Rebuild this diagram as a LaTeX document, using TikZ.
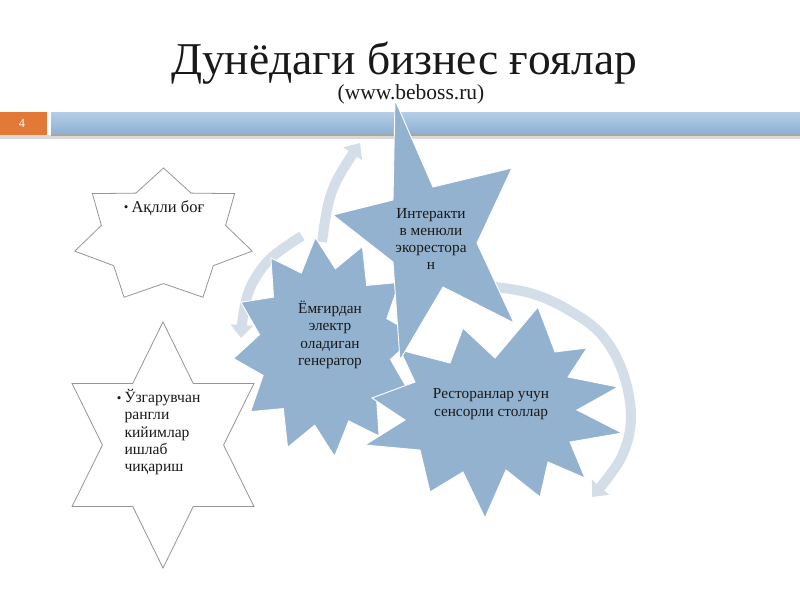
\documentclass[tikz,border=0pt]{standalone}
\usepackage{fontspec}
\setmainfont{Liberation Serif}
\usetikzlibrary{arrows.meta}
\definecolor{starblue}{RGB}{147,178,207}
\definecolor{arcgray}{RGB}{212,222,233}
\definecolor{barblueT}{RGB}{182,206,230}
\definecolor{barblueB}{RGB}{138,174,210}
\definecolor{barorange}{RGB}{226,121,54}
\definecolor{outlinegray}{RGB}{150,150,150}
\definecolor{txt}{RGB}{25,25,25}
\tikzset{
  bluestar/.style={fill=starblue, draw=white, line width=0.9pt, line join=miter},
  whitestar/.style={fill=white, draw=outlinegray, line width=0.8pt},
  cyclearc/.style={draw=arcgray, line width=10pt, -{Triangle[width=22pt,length=13pt]}},
  lbl/.style={text=txt, align=center, font=\fontsize{15.3}{17.3}\selectfont},
}
\newcommand{\regstar}[8]{%
  \pgfmathtruncatemacro\laststarpt{2*#6-1}%
  \path[#1] plot[samples at={0,...,\laststarpt}, variable=\j]
   ({#2+#4*(1-(1-#7)*mod(\j,2))*cos(#8+\j*180/#6)},
    {#3-#5*(1-(1-#7)*mod(\j,2))*sin(#8+\j*180/#6)}) -- cycle;}
\newcommand{\bulletmark}{\llap{\fontsize{13}{13}\selectfont\raisebox{0.5pt}{•}\hspace{3pt}}}
\begin{document}
\begin{tikzpicture}[x=1pt,y=-1pt]
\useasboundingbox (0,0) rectangle (800,600);
\fill[white] (0,0) rectangle (800,600);

% title
\node[anchor=base, text=txt, font=\fontsize{45.5}{45.5}\selectfont] (title) at (404,74) {Дунёдаги бизнес ғоялар};
\node[anchor=base, text=txt, font=\fontsize{21.5}{21.5}\selectfont] (subtitle) at (411,99) {(www.beboss.ru)};

% bar
\fill[black!15] (0,135) rectangle (800,139);
\fill[barorange] (0,112) rectangle (47,135);
\shade[top color=barblueT, bottom color=barblueB] (51,112) rectangle (800,135);
\fill[black!35] (51,134) rectangle (800,135.5);
\node[text=white, font=\fontsize{12.5}{12.5}\selectfont] (num) at (22,123) {4};

% cycle arrows (behind)
\draw[cyclearc] plot[smooth, tension=0.6] coordinates {(488,286) (530,293) (565,308) (600,333) (622,370) (631,417) (621,458) (592,497)};
\draw[cyclearc] plot[smooth, tension=0.6] coordinates {(322,242) (328,205) (338,178) (360,143)};
\draw[cyclearc] plot[smooth, tension=0.6] coordinates {(302,236) (271,258) (252,284) (244,310) (241,338)};

% left white stars
\regstar{whitestar}{163.5}{236}{91}{68}{7}{0.7}{90}
\regstar{whitestar}{163}{445}{105}{123}{6}{0.577}{90}

% generator star
\regstar{bluestar}{325}{347}{92}{110}{12}{0.72}{6}

% restaurant tables star
\path[bluestar] (538,307) -- (555,352) -- (587,348) -- (568,377) -- (618,387) -- (577,410)
 -- (622,433) -- (570,442) -- (585,478) -- (548,462) -- (540,497) -- (506,470)
 -- (485,518) -- (463,472) -- (430,492) -- (420,450) -- (365,445) -- (405,420)
 -- (372,398) -- (415,382) -- (400,350) -- (450,363) -- (463,328) -- (495,358) -- cycle;

% interactive menu star
\path[bluestar] (395,100) -- (433,187) -- (512,168) -- (477,243) -- (514,323)
 -- (443,287) -- (400,360) -- (393,262) -- (333,215) -- (393,200) -- cycle;

% labels
\node[lbl] (t1) at (431,239) {Интеракти\\в менюли\\экорестора\\н};
\node[lbl] (t2) at (330,335) {Ёмғирдан\\электр\\оладиган\\генератор};
\node[lbl] (t3) at (491,404) {Ресторанлар учун\\сенсорли столлар};
\node[anchor=base west, text=txt, font=\fontsize{16.5}{17}\selectfont] (t4) at (128,212) {\bulletmark Ақлли боғ};
\node[anchor=north west, align=left, text=txt, font=\fontsize{15.6}{17.2}\selectfont] (t5) at (121,386) {\bulletmark Ўзгарувчан\\рангли\\кийимлар\\ишлаб\\чиқариш};
\end{tikzpicture}
\end{document}
